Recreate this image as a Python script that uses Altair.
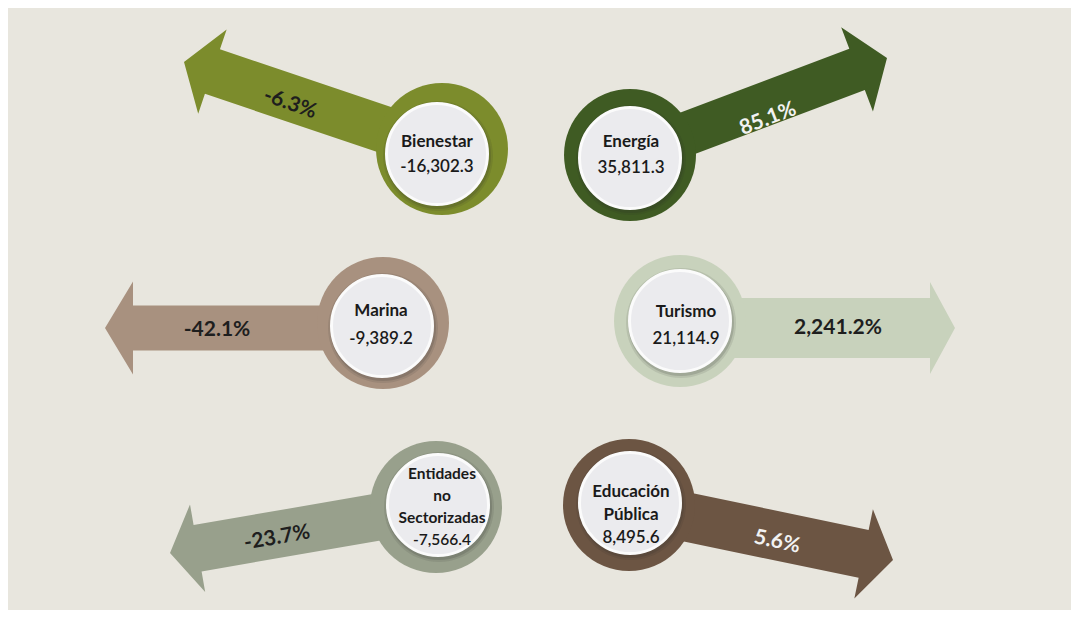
import altair as alt
import pandas as pd
import numpy as np

# ---- data ----
categories = ["Bienestar", "Energía", "Marina", "Turismo",
              "Entidades no Sectorizadas", "Educación Pública"]
label_lines = [["Bienestar"], ["Energía"], ["Marina"], ["Turismo"],
               ["Entidades", "no", "Sectorizadas"], ["Educación", "Pública"]]
amounts = [-16302.3, 35811.3, -9389.2, 21114.9, -7566.4, 8495.6]
pct_change = [-6.3, 85.1, -42.1, 2241.2, -23.7, 5.6]

# ---- layout (pixel space of the 1079x618 picture) ----
ring_x = [442, 630, 383, 680, 436, 629]
ring_y = [149, 155, 323, 321, 507, 505]
inner_dx = [-5, 0, -1, 0, 2, 1]
inner_dy = [5, 3, 3, 0, -2, -2]
start_y = [149, 155, 328, 328, 507, 505]
tip_x = [184, 887, 105, 955, 170, 893]
tip_y = [62, 58, 328, 328, 553, 560]
shaft_w = [47, 44, 45, 60, 47, 49]
head_w = [89, 90, 93, 92, 89, 91]
head_len = [30, 32, 28, 25, 28, 30]
colors = ["#7c8c2c", "#3f5b23", "#a8917f", "#c8d2bc", "#98a08c", "#6c5543"]
pct_color = ["#1e1e1e", "#f2f2f2", "#1e1e1e", "#1e1e1e", "#1e1e1e", "#f2f2f2"]
pct_x = [290, 768, 217, 838, 277, 777]
pct_y = [104, 119, 330, 328, 538, 542]
pct_angle = [19, 339, 0, 0, 350, 12]
text_cx = [437, 631, 381, 686, 442, 631]
text_cy = [154, 155, 325, 325, 507, 515]
line_gap = [25, 26, 28, 27, 21.7, 23]
name_size = [17, 17, 17, 17, 15.5, 17]

FONT = "Lato"
W, H, M = 1079, 618, 8

# arrows as polygons
arrow_rows = []
for i, c in enumerate(categories):
    s = np.array([ring_x[i], start_y[i]], float)
    t = np.array([tip_x[i], tip_y[i]], float)
    u = (t - s) / np.linalg.norm(t - s)
    n = np.array([-u[1], u[0]])
    b = t - u * head_len[i]
    pts = [s + n * shaft_w[i] / 2, b + n * shaft_w[i] / 2, b + n * head_w[i] / 2,
           t, b - n * head_w[i] / 2, b - n * shaft_w[i] / 2, s - n * shaft_w[i] / 2]
    for k, p in enumerate(pts):
        arrow_rows.append({"cat": c, "k": k, "x": p[0], "y": p[1], "color": colors[i]})
arrows = pd.DataFrame(arrow_rows)

circles = pd.DataFrame({
    "cat": categories,
    "x": ring_x, "y": ring_y,
    "ix": [a + b for a, b in zip(ring_x, inner_dx)],
    "iy": [a + b for a, b in zip(ring_y, inner_dy)],
    "sx": [a + b + 1 for a, b in zip(ring_x, inner_dx)],
    "sy": [a + b + 2 for a, b in zip(ring_y, inner_dy)],
    "color": colors,
})

lab_rows = []
for i, c in enumerate(categories):
    lines = label_lines[i] + [f"{amounts[i]:,.1f}"]
    n = len(lines)
    for k, ln in enumerate(lines):
        lab_rows.append({"cat": c, "text": ln, "x": text_cx[i],
                         "y": text_cy[i] + (k - (n - 1) / 2) * line_gap[i],
                         "kind": "value" if k == n - 1 else "name",
                         "fs": name_size[i]})
labels = pd.DataFrame(lab_rows)

pcts = pd.DataFrame({
    "cat": categories,
    "text": [f"{p:,.1f}%" for p in pct_change],
    "x": pct_x, "y": pct_y, "angle": pct_angle, "color": pct_color,
})

xs = alt.Scale(domain=[M, W - M], nice=False, zero=False)
ys = alt.Scale(domain=[H - M, M], nice=False, zero=False)
X = lambda f: alt.X(f, type="quantitative", scale=xs, axis=None)
Y = lambda f: alt.Y(f, type="quantitative", scale=ys, axis=None)

arrow_layer = alt.Chart(arrows).mark_line(filled=True, strokeWidth=0).encode(
    x=X("x"), y=Y("y"), detail="cat:N", order=alt.Order("k:Q"),
    fill=alt.Fill("color:N", scale=None),
)
ring_layer = alt.Chart(circles).mark_circle(size=132 * 132, opacity=1).encode(
    x=X("x"), y=Y("y"), color=alt.Color("color:N", scale=None),
)
shadow_outer = alt.Chart(circles).mark_circle(size=110 * 110, color="#2a2a2a", opacity=0.10).encode(
    x=X("sx"), y=Y("sy"),
)
shadow_layer = alt.Chart(circles).mark_circle(size=106 * 106, color="#2a2a2a", opacity=0.16).encode(
    x=X("sx"), y=Y("sy"),
)
inner_layer = alt.Chart(circles).mark_circle(
    size=101 * 101, color="#ebebee", opacity=1, stroke="#fbfbfb", strokeWidth=3
).encode(x=X("ix"), y=Y("iy"))

name_layer = alt.Chart(labels).transform_filter(alt.datum.kind == "name").mark_text(
    font=FONT, fontWeight="bold", color="#1a1a1a", align="center", baseline="middle"
).encode(x=X("x"), y=Y("y"), text="text:N", size=alt.Size("fs:Q", scale=None))
value_layer = alt.Chart(labels).transform_filter(alt.datum.kind == "value").mark_text(
    font=FONT, fontWeight=600, color="#1a1a1a", align="center", baseline="middle"
).encode(x=X("x"), y=Y("y"), text="text:N", size=alt.Size("fs:Q", scale=None))

pct_layer = alt.Chart(pcts).mark_text(
    font=FONT, fontWeight="bold", fontSize=21, align="center", baseline="middle"
).encode(
    x=X("x"), y=Y("y"), text="text:N", angle=alt.Angle("angle:Q", scale=None),
    color=alt.Color("color:N", scale=None),
)

chart = alt.layer(
    arrow_layer, ring_layer, shadow_outer, shadow_layer, inner_layer,
    name_layer, value_layer, pct_layer
).properties(
    width=W - 2 * M, height=H - 2 * M, background="#e8e6de", padding=0,
    autosize=alt.AutoSizeParams(type="none"),
).configure_view(stroke=None)

chart.save("out.html", embed_options={"renderer": "svg", "actions": False})
